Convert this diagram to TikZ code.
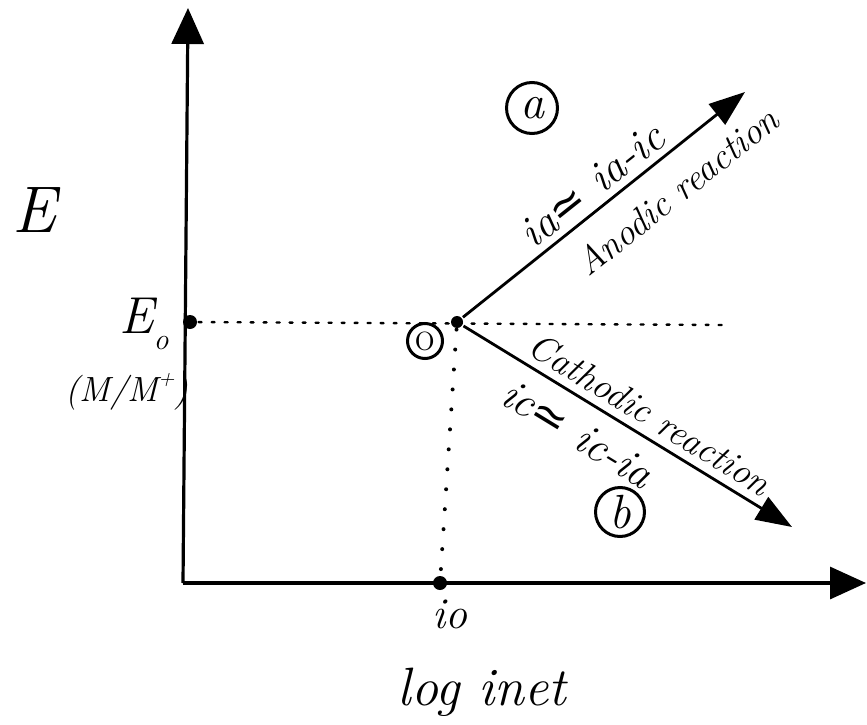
\documentclass[tikz,border=0pt]{standalone}
\usepackage{fontspec}
\newfontfamily\symf{DejaVu Sans}
\usetikzlibrary{arrows.meta}
\newcommand{\apx}{{\upshape\symf ≃}}
\begin{document}
\begin{tikzpicture}[x=1pt,y=-1pt,line width=3.2pt,
  axis/.style={-{Triangle[length=36pt,width=32pt]}},
  ray/.style={line width=2.8pt,-{Triangle[length=36pt,width=26pt]}},
  dotmark/.style={circle,fill=black,inner sep=0pt,minimum size=14pt},
  lbl/.style={font=\fontsize{37}{40}\selectfont\itshape,inner sep=0pt},
  frm/.style={font=\fontsize{44}{48}\selectfont\itshape,inner sep=0pt},
  circled/.style={circle,draw,line width=3pt,inner sep=0pt,minimum size=#1,font=\fontsize{48}{50}\selectfont\itshape},
  hguide/.style={line width=2.4pt,line cap=round,dash pattern=on 3pt off 10pt},
  vguide/.style={line width=4pt,line cap=round,dash pattern=on 0pt off 20pt}]
\useasboundingbox (0,0) rectangle (867,725);
% axes
\coordinate (O) at (183,583);
\coordinate (Ytop) at (188,8);
\coordinate (Xend) at (866,583);
\draw[axis] (O) -- (Ytop);
\draw[axis] (O) -- (Xend);
% points
\node[dotmark] (E0) at (190,322) {};
\node[dotmark,minimum size=12pt] (P) at (457,322) {};
\node[dotmark] (I0) at (440,583) {};
\coordinate (Hend) at (725,325);
\draw[hguide] (E0) -- (Hend);
\draw[vguide] (P) -- (I0);
% rays
\coordinate (A) at (745,92);
\coordinate (C) at (792,527);
\draw[ray] (P) -- (A);
\draw[ray] (P) -- (C);
% labels on rays
\node[frm,rotate=38.5] (la1) at (592,185) {ia\apx\ ia-ic};
\node[lbl,rotate=38.5] (la2) at (677,191) {Anodic reaction};
\node[lbl,rotate=-31.4] (lc1) at (650,414) {Cathodic reaction};
\node[frm,rotate=-31.4] (lc2) at (578,434) {ic\apx\ ic-ia};
% circled marks
\node[circled=51pt] (ca) at (532,108) {a};
\node[circled=49pt] (cb) at (620,512) {b};
\node[circled=35pt,font=\fontsize{42}{44}\selectfont] (co) at (425,341) {o};
% axis labels
\node[font=\fontsize{66}{70}\selectfont\itshape,inner sep=0pt] (E) at (34,210) {E};
\node[font=\fontsize{52}{56}\selectfont\itshape,inner sep=0pt] (E0l) at (144,324) {E\raisebox{-0.3em}{\fontsize{30}{32}\selectfont o}};
\node[font=\fontsize{35}{38}\selectfont\itshape,inner sep=0pt] (Mlbl) at (127,392) {(M/M\raisebox{0.45em}{\fontsize{22}{24}\selectfont +})};
\node[font=\fontsize{44}{48}\selectfont\itshape,inner sep=0pt] (i0l) at (450,614) {io};
\node[font=\fontsize{54}{58}\selectfont\itshape,inner sep=0pt] (xl) at (482,692) {log inet};
\end{tikzpicture}
\end{document}
